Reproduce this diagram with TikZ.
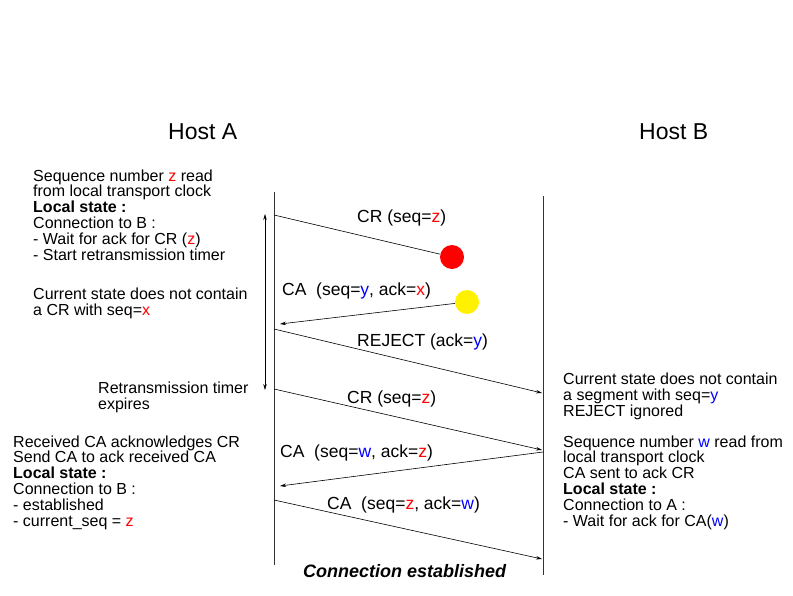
\documentclass[tikz,border=0pt]{standalone}
\usepackage{fontspec}
\setmainfont{Liberation Sans}
\usetikzlibrary{arrows.meta}
\newcommand\redz{\textcolor{red}{z}}
\newcommand\redx{\textcolor{red}{x}}
\newcommand\bluey{\textcolor{blue}{y}}
\newcommand\bluew{\textcolor{blue}{w}}
\tikzset{
  body/.style={anchor=base west, align=left, inner sep=0pt, font=\fontsize{16}{15.9}\selectfont},
  lbl/.style={anchor=base west, inner sep=0pt, font=\fontsize{17.5}{20}\selectfont},
  host/.style={anchor=base west, inner sep=0pt, font=\fontsize{23}{26}\selectfont},
  tl/.style={line width=0.9pt, black!80},
  msg/.style={line width=0.6pt, -{Stealth[length=6pt,width=3.5pt]}},
  msgnohead/.style={line width=0.6pt},
  dot/.style={circle, inner sep=0pt, minimum size=24pt}
}
\begin{document}
\begin{tikzpicture}[x=1pt,y=-1pt]
\useasboundingbox (0,0) rectangle (793,595);
\fill[white] (0,0) rectangle (793,595);
% hosts
\node[host] (hA) at (168,139) {Host A};
\node[host] (hB) at (639,139) {Host B};
% timelines
\coordinate (At) at (274,192);
\coordinate (Ab) at (274,565);
\coordinate (Bt) at (543,196);
\coordinate (Bb) at (543,575);
\draw[tl] (At) -- (Ab);
\draw[tl] (Bt) -- (Bb);
% timer arrow
\coordinate (T1) at (265,214);
\coordinate (T2) at (265,390);
\draw[line width=0.6pt, {Stealth[length=6pt,width=3.5pt]}-{Stealth[length=6pt,width=3.5pt]}] (T1) -- (T2);
% circles
\node[dot, fill=red] (rdot) at (452,257) {};
\node[dot, fill=yellow] (ydot) at (467,302) {};
% message endpoints
\coordinate (m1a) at (274,215);
\coordinate (m2b) at (280,324);
\coordinate (m3a) at (274,329);
\coordinate (m3b) at (542,393);
\coordinate (m4a) at (274,389);
\coordinate (m4b) at (542,450);
\coordinate (m5a) at (543,452);
\coordinate (m5b) at (280,486);
\coordinate (m6a) at (274,500);
\coordinate (m6b) at (542,559);
\draw[msgnohead] (m1a) -- (rdot);
\draw[msg] (ydot) -- (m2b);
\draw[msg] (m3a) -- (m3b);
\draw[msg] (m4a) -- (m4b);
\draw[msg] (m5a) -- (m5b);
\draw[msg] (m6a) -- (m6b);
% message labels
\node[lbl] (l1) at (357,222) {CR (seq=\redz)};
\node[lbl] (l2) at (282,295) {CA\ \ (seq=\bluey, ack=\redx)};
\node[lbl] (l3) at (357,346) {REJECT (ack=\bluey)};
\node[lbl] (l4) at (347,403) {CR (seq=\redz)};
\node[lbl] (l5) at (280,457) {CA\ \ (seq=\bluew, ack=\redz)};
\node[lbl] (l6) at (327,509) {CA\ \ (seq=\redz, ack=\bluew)};
\node[lbl, font=\fontsize{18}{20}\selectfont\bfseries\itshape] (ce) at (303,577) {Connection established};
% left texts (anchor base = baseline of last line)
\node[body] (b1) at (33,260.5) {Sequence number \redz{} read\\from local transport clock\\\textbf{Local state :}\\Connection to B :\\- Wait for ack for CR (\redz)\\- Start retransmission timer};
\node[body] (b2) at (33,315) {Current state does not contain\\a CR with seq=\redx};
\node[body] (b3) at (98,409) {Retransmission timer\\expires};
\node[body] (b4) at (13,526.5) {Received CA acknowledges CR\\Send CA to ack received CA\\\textbf{Local state :}\\Connection to B :\\- established\\- current\_seq = \redz};
% right texts
\node[body] (r1) at (563,416) {Current state does not contain\\a segment with seq=\bluey\\REJECT ignored};
\node[body] (r2) at (563,526.5) {Sequence number \bluew{} read from\\local transport clock\\CA sent to ack CR\\\textbf{Local state :}\\Connection to A :\\- Wait for ack for CA(\bluew)};
\end{tikzpicture}
\end{document}
